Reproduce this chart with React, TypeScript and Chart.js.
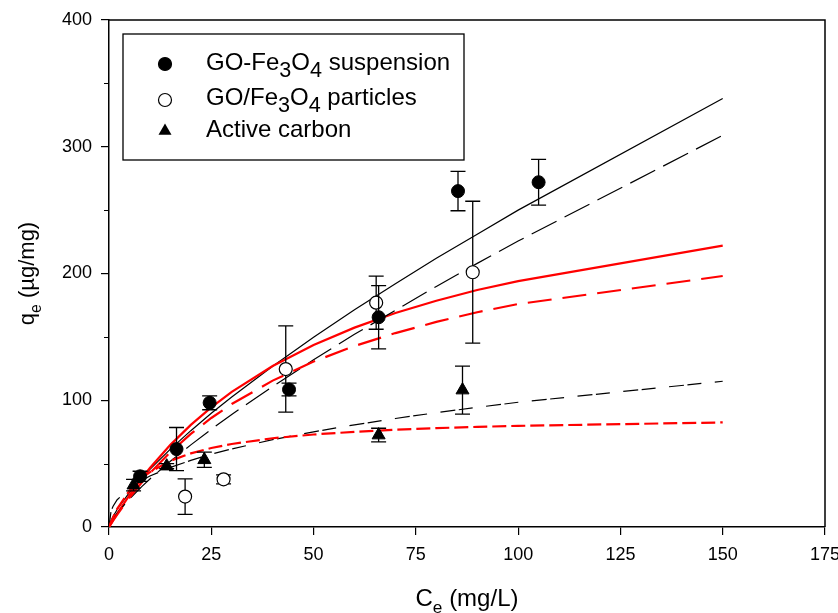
import React, { useEffect, useRef } from 'react';
import { Chart, registerables } from 'chart.js';

Chart.register(...registerables);

const FONT = '"Liberation Sans", Arial, Helvetica, sans-serif';

// ---- fitted model curves ----
const curveX = [0, 0.5, 1, 2, 5, 8, 10, 15, 20, 25, 30, 40, 50, 60, 70, 80, 90, 100, 150];
const suspensionFitBlack = [0, 5, 8.3, 13.8, 27.3, 38.6, 45.5, 61.4, 76, 89.7, 102.6, 126.9, 149.7, 171.4, 192, 212, 231, 250, 338];
const suspensionFitRed = [0, 2.7, 5.4, 10.6, 25.2, 38.4, 46.6, 64.8, 80.6, 94.4, 106.6, 127, 143.6, 157.3, 168.8, 178.5, 187, 194, 222];
const particlesFitBlack = [0, 3.7, 6.4, 10.9, 22.1, 31.9, 37.9, 51.9, 64.8, 77.1, 88.8, 110.9, 131.9, 152, 171, 189.8, 208, 225.6, 309];
const particlesFitRed = [0, 2.5, 5, 9.7, 23.1, 35.1, 42.5, 59.1, 73.5, 86, 97, 115.5, 130.5, 142.8, 153, 161.8, 169.4, 175.9, 198];
const carbonFitBlack = [0, 12.5, 16.4, 21.5, 30.7, 36.8, 40.2, 47, 52.6, 57.4, 61.6, 68.9, 75.1, 80.6, 85.6, 90.2, 94.4, 98.4, 115];
const carbonFitRed = [0, 4.1, 7.8, 14.3, 28.7, 38.5, 43.3, 52.2, 58.1, 62.3, 65.5, 70, 73, 75.1, 76.7, 78, 79, 79.8, 82.5];

// ---- measured data ----
const suspensionX = [7.6, 16.5, 24.6, 44, 65.9, 85.3, 105];
const suspensionY = [40, 61.5, 98, 108.5, 165.5, 265, 272];
const suspensionErr = [4, 17, 5.5, 5, 25, 15.5, 18];

const particlesX = [18.6, 28, 43.2, 65.3, 88.9];
const particlesY = [24, 37.6, 124.6, 177, 201];
const particlesErr = [14, 3.5, 34, 21, 56];

const carbonX = [6, 14.1, 23.3, 65.9, 86.4];
const carbonY = [33, 48, 53, 72.5, 108];
const carbonErr = [4.5, 2, 6, 5.4, 19];

const xMin = 0, xMax = 175, xStep = 25;
const yMin = 0, yMax = 400, yStep = 100;
const yMinorTicks = [50, 150, 250, 350];

const xTitle = [{ t: 'C' }, { t: 'e', sub: true }, { t: ' (mg/L)' }];
const yTitle = [{ t: 'q' }, { t: 'e', sub: true }, { t: ' (µg/mg)' }];
const legendRows = [
  { marker: 'filled', parts: [{ t: 'GO-Fe' }, { t: '3', sub: true }, { t: 'O' }, { t: '4', sub: true }, { t: ' suspension' }] },
  { marker: 'open', parts: [{ t: 'GO/Fe' }, { t: '3', sub: true }, { t: 'O' }, { t: '4', sub: true }, { t: ' particles' }] },
  { marker: 'triangle', parts: [{ t: 'Active carbon' }] },
];

type Part = { t: string; sub?: boolean };

function zip(xs: number[], ys: number[]) {
  return xs.map((x, i) => ({ x, y: ys[i] }));
}

function measureRich(ctx: CanvasRenderingContext2D, parts: Part[], size: number, subScale: number) {
  return parts.map((p) => {
    ctx.font = `${p.sub ? size * subScale : size}px ${FONT}`;
    return ctx.measureText(p.t).width;
  });
}

function drawRich(
  ctx: CanvasRenderingContext2D,
  parts: Part[],
  x: number,
  y: number,
  size: number,
  align: 'left' | 'center',
  subScale: number,
  subShift: number
) {
  const widths = measureRich(ctx, parts, size, subScale);
  const total = widths.reduce((a, b) => a + b, 0);
  let cx = align === 'center' ? x - total / 2 : x;
  ctx.textAlign = 'left';
  ctx.textBaseline = 'alphabetic';
  parts.forEach((p, i) => {
    ctx.font = `${p.sub ? size * subScale : size}px ${FONT}`;
    ctx.fillText(p.t, cx, y + (p.sub ? size * subShift : 0));
    cx += widths[i];
  });
}

function drawMarker(ctx: CanvasRenderingContext2D, kind: string, x: number, y: number) {
  ctx.save();
  ctx.lineWidth = 1.2;
  ctx.strokeStyle = '#000';
  if (kind === 'triangle') {
    const r = 7.5;
    ctx.beginPath();
    for (let k = 0; k < 3; k++) {
      const a = (k * 2 * Math.PI) / 3;
      const px = x + Math.sin(a) * r;
      const py = y - Math.cos(a) * r;
      if (k === 0) ctx.moveTo(px, py);
      else ctx.lineTo(px, py);
    }
    ctx.closePath();
    ctx.fillStyle = '#000';
    ctx.fill();
  } else {
    ctx.beginPath();
    ctx.arc(x, y, 6.5, 0, Math.PI * 2);
    ctx.fillStyle = kind === 'filled' ? '#000' : '#fff';
    ctx.fill();
    ctx.stroke();
  }
  ctx.restore();
}

const decorPlugin = {
  id: 'decor',
  beforeDatasetDraw(chart: any, args: any) {
    const ds = chart.data.datasets[args.index];
    if (!ds.errors) return;
    const ctx = chart.ctx as CanvasRenderingContext2D;
    const xs = chart.scales.x;
    const ys = chart.scales.y;
    ctx.save();
    ctx.strokeStyle = '#000';
    ctx.lineWidth = 1.3;
    ds.data.forEach((pt: any, i: number) => {
      const e = ds.errors[i];
      const px = xs.getPixelForValue(pt.x);
      const top = ys.getPixelForValue(pt.y + e);
      const bot = ys.getPixelForValue(pt.y - e);
      ctx.beginPath();
      ctx.moveTo(px, top);
      ctx.lineTo(px, bot);
      ctx.moveTo(px - 7.5, top);
      ctx.lineTo(px + 7.5, top);
      ctx.moveTo(px - 7.5, bot);
      ctx.lineTo(px + 7.5, bot);
      ctx.stroke();
    });
    ctx.restore();
  },
  afterDraw(chart: any) {
    const ctx = chart.ctx as CanvasRenderingContext2D;
    const a = chart.chartArea;
    const ys = chart.scales.y;
    ctx.save();
    // frame (top and right)
    ctx.strokeStyle = '#000';
    ctx.lineWidth = 1.5;
    ctx.beginPath();
    ctx.moveTo(a.left, a.top);
    ctx.lineTo(a.right, a.top);
    ctx.lineTo(a.right, a.bottom);
    ctx.stroke();
    // minor ticks on y
    ctx.lineWidth = 1.2;
    ctx.beginPath();
    yMinorTicks.forEach((v) => {
      const py = Math.round(ys.getPixelForValue(v)) + 0.5;
      ctx.moveTo(a.left - 5, py);
      ctx.lineTo(a.left, py);
    });
    ctx.stroke();

    ctx.fillStyle = '#000';
    // x title
    drawRich(ctx, xTitle, (a.left + a.right) / 2, 606, 24, 'center', 0.72, 0.3);
    // y title
    ctx.save();
    ctx.translate(34, (a.top + a.bottom) / 2);
    ctx.rotate(-Math.PI / 2);
    drawRich(ctx, yTitle, 0, 0, 22, 'center', 0.72, 0.3);
    ctx.restore();

    // legend
    ctx.lineWidth = 1.3;
    ctx.strokeRect(123, 34, 341, 126);
    const rowY = [70, 105, 137];
    const markY = [64, 100, 131];
    legendRows.forEach((row, i) => {
      drawMarker(ctx, row.marker, 165, markY[i]);
      ctx.fillStyle = '#000';
      drawRich(ctx, row.parts, 206, rowY[i], 24, 'left', 0.9, 0.3);
    });
    ctx.restore();
  },
};

function lineDs(data: number[], color: string, width: number, dash: number[]) {
  return {
    data: zip(curveX, data),
    showLine: true,
    borderColor: color,
    borderWidth: width,
    borderDash: dash,
    pointRadius: 0,
    fill: false,
    tension: 0,
    order: 10,
  };
}

export default function App() {
  const ref = useRef<HTMLCanvasElement | null>(null);

  useEffect(() => {
    if (!ref.current) return;
    const tickFont = { family: FONT, size: 18 };
    const chart = new Chart(ref.current, {
      type: 'scatter',
      data: {
        datasets: [
          lineDs(carbonFitRed, '#ff0000', 2.2, [14, 5]),
          lineDs(carbonFitBlack, '#000000', 1.2, [15, 3.5, 14, 13.5]),
          lineDs(particlesFitRed, '#ff0000', 2.2, [24, 11]),
          lineDs(particlesFitBlack, '#000000', 1.2, [28, 9]),
          lineDs(suspensionFitRed, '#ff0000', 2.2, []),
          lineDs(suspensionFitBlack, '#000000', 1.2, []),
          {
            data: zip(carbonX, carbonY),
            errors: carbonErr,
            pointStyle: 'triangle',
            pointRadius: 7.5,
            pointBackgroundColor: '#000',
            pointBorderColor: '#000',
            pointBorderWidth: 1,
            showLine: false,
            order: 3,
          } as any,
          {
            data: zip(particlesX, particlesY),
            errors: particlesErr,
            pointStyle: 'circle',
            pointRadius: 6.5,
            pointBackgroundColor: '#fff',
            pointBorderColor: '#000',
            pointBorderWidth: 1.2,
            showLine: false,
            order: 2,
          } as any,
          {
            data: zip(suspensionX, suspensionY),
            errors: suspensionErr,
            pointStyle: 'circle',
            pointRadius: 6.5,
            pointBackgroundColor: '#000',
            pointBorderColor: '#000',
            pointBorderWidth: 1,
            showLine: false,
            order: 1,
          } as any,
        ],
      },
      options: {
        animation: false,
        responsive: true,
        maintainAspectRatio: false,
        layout: { padding: { top: 20, right: 13, left: 0, bottom: 0 } },
        plugins: {
          legend: { display: false },
          tooltip: { enabled: false },
          title: { display: false },
        },
        scales: {
          x: {
            type: 'linear',
            min: xMin,
            max: xMax,
            ticks: {
              stepSize: xStep,
              color: '#000',
              font: tickFont,
              padding: 9,
              maxRotation: 0,
              autoSkip: false,
            },
            grid: {
              drawOnChartArea: false,
              drawTicks: true,
              tickLength: 8,
              color: '#000',
              lineWidth: 1.2,
            },
            border: { display: true, color: '#000', width: 1.5 },
            afterFit(s: any) {
              s.height = 86;
              s.paddingLeft = 0;
              s.paddingRight = 0;
            },
          },
          y: {
            type: 'linear',
            min: yMin,
            max: yMax,
            ticks: {
              stepSize: yStep,
              color: '#000',
              font: tickFont,
              padding: 9,
            },
            grid: {
              drawOnChartArea: false,
              drawTicks: true,
              tickLength: 8,
              color: '#000',
              lineWidth: 1.2,
            },
            border: { display: true, color: '#000', width: 1.5 },
            afterFit(s: any) {
              s.width = 109;
              s.paddingTop = 0;
              s.paddingBottom = 0;
            },
          },
        },
      } as any,
      plugins: [decorPlugin],
    });
    return () => chart.destroy();
  }, []);

  return (
    <div style={{ position: 'fixed', left: 0, top: 0, width: 838, height: 613, background: '#fff' }}>
      <canvas ref={ref} />
    </div>
  );
}
